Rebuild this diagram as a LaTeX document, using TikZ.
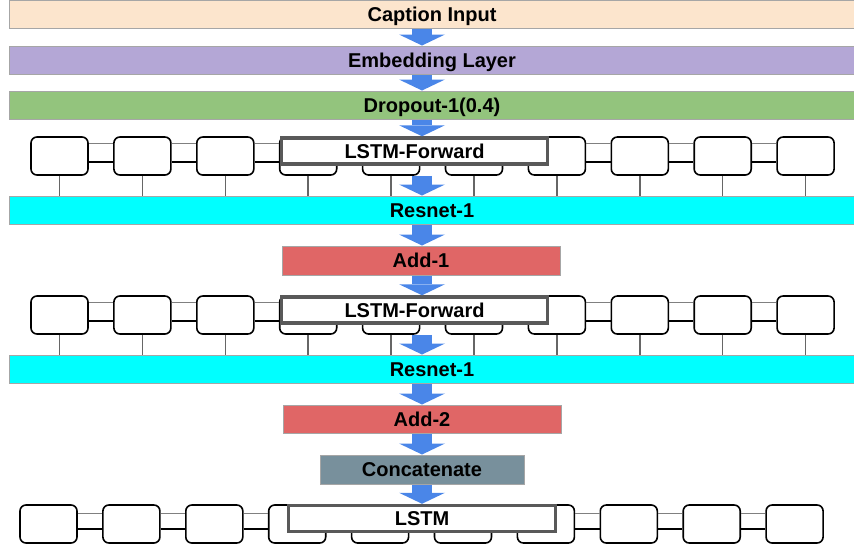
\documentclass[tikz,border=0pt]{standalone}
\usepackage{fontspec}
\setmainfont{Liberation Sans}
\usetikzlibrary{arrows.meta,calc,positioning}
\definecolor{CapPeach}{RGB}{252,229,205}
\definecolor{EmbPurple}{RGB}{180,167,214}
\definecolor{DropGreen}{RGB}{147,196,125}
\definecolor{ResCyan}{RGB}{0,255,255}
\definecolor{AddRed}{RGB}{224,102,102}
\definecolor{CatGrey}{RGB}{120,144,156}
\definecolor{FlowBlue}{RGB}{74,134,232}
\definecolor{TagGrey}{RGB}{89,89,89}

\begin{document}
\begin{tikzpicture}[x=1pt,y=-1pt,
  bar/.style={draw=gray!70,line width=1pt,inner sep=0,minimum height=28pt,text height=14.3pt,text depth=0pt,font=\bfseries\fontsize{20}{24}\selectfont},
  cell/.style={draw,line width=1.6pt,rounded corners=6pt,minimum width=57pt,minimum height=38pt,inner sep=0},
  tag/.style={draw=TagGrey,fill=white,line width=3.5pt,minimum width=266pt,minimum height=26pt,inner sep=0,text height=14.3pt,text depth=0pt,font=\bfseries\fontsize{20}{24}\selectfont},
  link/.style={line width=1.6pt},
  linkup/.style={gray,line width=1pt},
  drop/.style={gray!80!black,line width=1.5pt},
  flow/.style={FlowBlue,line width=20pt,-{Triangle[width=46pt,length=11pt,line width=0pt]}}]
\useasboundingbox (0,0) rectangle (854,550);
\node[bar,fill=CapPeach,minimum width=846pt] (cap) at (432,14) {Caption Input};
\node[bar,fill=EmbPurple,minimum width=846pt] (emb) at (432,60) {Embedding Layer};
\node[bar,fill=DropGreen,minimum width=846pt] (drp) at (432,105) {Dropout-1(0.4)};
\node[bar,fill=ResCyan,minimum width=846pt] (resa) at (432,210) {Resnet-1};
\node[bar,fill=AddRed,minimum width=278pt,minimum height=29pt] (adda) at (421,260.5) {Add-1};
\node[bar,fill=ResCyan,minimum width=846pt] (resb) at (432,369) {Resnet-1};
\node[bar,fill=AddRed,minimum width=278pt] (addb) at (422,419) {Add-2};
\node[bar,fill=CatGrey,minimum width=204pt,minimum height=29pt] (cat) at (422,469.5) {Concatenate};
% lstm chains
\foreach \i in {1,...,10}{
  \node[cell] (ca\i) at ({59.5+82.9*(\i-1)},156) {};
  \node[cell] (cb\i) at ({59.5+82.9*(\i-1)},315) {};
  \node[cell] (cc\i) at ({48.5+82.9*(\i-1)},524) {};
  \draw[drop] (ca\i.south) -- (ca\i.south |- resa.north);
  \draw[drop] (cb\i.south) -- (cb\i.south |- resb.north);
}
\foreach \i [count=\j from 2] in {1,...,9}{
  \draw[linkup] ($(ca\i.east)+(0,-13)$) -- ($(ca\j.west)+(0,-13)$);
  \draw[link] ($(ca\i.east)+(0,6)$) -- ($(ca\j.west)+(0,6)$);
  \draw[linkup] ($(cb\i.east)+(0,-13)$) -- ($(cb\j.west)+(0,-13)$);
  \draw[link] ($(cb\i.east)+(0,6)$) -- ($(cb\j.west)+(0,6)$);
  \draw[linkup] ($(cc\i.east)+(0,-11)$) -- ($(cc\j.west)+(0,-11)$);
  \draw[link] ($(cc\i.east)+(0,5)$) -- ($(cc\j.west)+(0,5)$);
}
\node[tag] (fwda) at (414.5,151) {LSTM-Forward};
\node[tag] (fwdb) at (414.5,310) {LSTM-Forward};
\node[tag,minimum width=267pt] (lstm) at (422,518.5) {LSTM};
% flow arrows
\draw[flow] (cap.south -| cat) -- (emb.north -| cat);
\draw[flow] (emb.south -| cat) -- (drp.north -| cat);
\draw[flow] (drp.south -| cat) -- (fwda.north -| cat);
\draw[flow] (ca5.south -| cat) -- (resa.north -| cat);
\draw[flow] (resa.south -| cat) -- (adda.north -| cat);
\draw[flow] (adda.south -| cat) -- (fwdb.north -| cat);
\draw[flow] (cb5.south -| cat) -- (resb.north -| cat);
\draw[flow] (resb.south -| cat) -- (addb.north -| cat);
\draw[flow] (addb.south -| cat) -- (cat.north);
\draw[flow] (cat.south) -- (lstm.north);
\end{tikzpicture}
\end{document}
